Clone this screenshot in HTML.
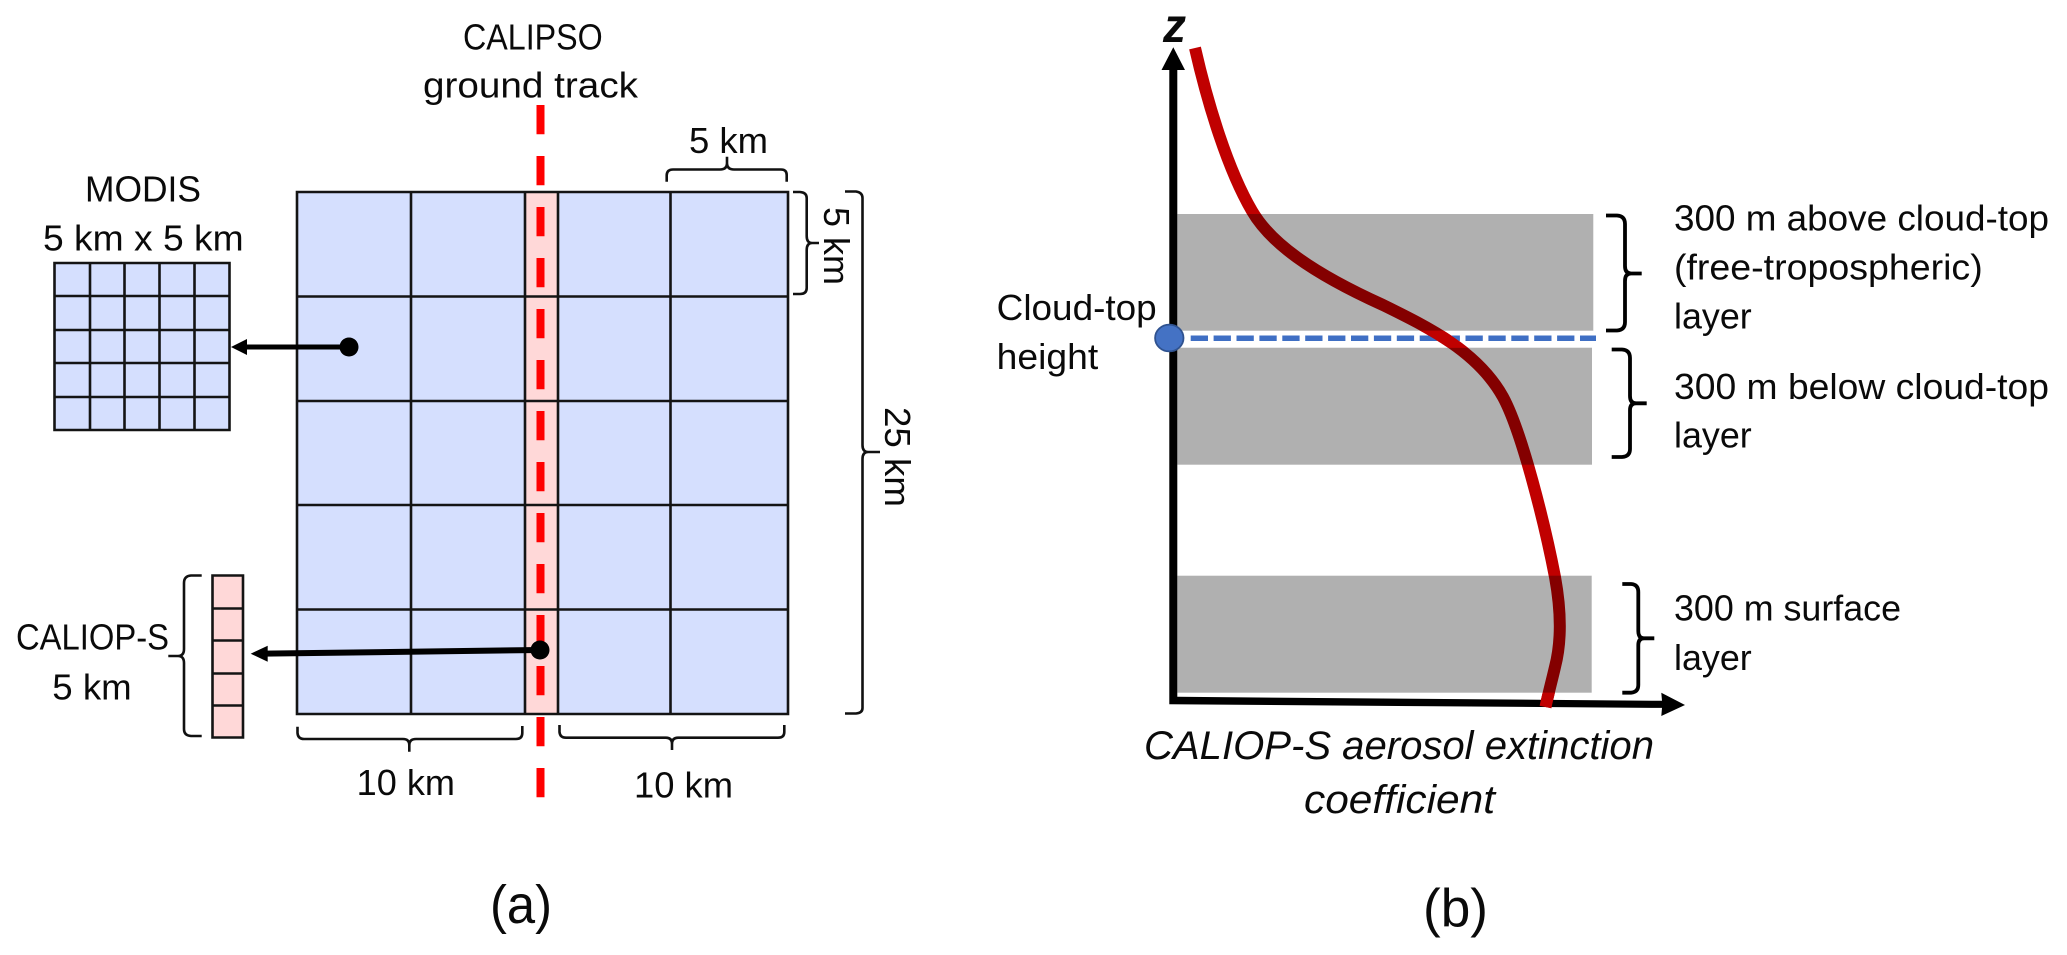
<!DOCTYPE html>
<html><head><meta charset="utf-8"><style>
html,body{margin:0;padding:0;background:#fff;width:2067px;height:955px;overflow:hidden}
svg{display:block}
text{font-family:"Liberation Sans",sans-serif;font-size:36px;fill:#0a0a0a}
.g{fill:none;stroke:#141414;stroke-width:2.6}
.b{fill:none;stroke:#111;stroke-width:2.6;stroke-linejoin:round}
.bb{fill:none;stroke:#000;stroke-width:3.8;stroke-linejoin:round}
.red{fill:none;stroke:#c00000;stroke-width:12}
</style></head><body>
<svg width="2067" height="955" viewBox="0 0 2067 955" xmlns="http://www.w3.org/2000/svg">
<defs>
<clipPath id="gap"><rect x="1300" y="330.7" width="300" height="17"/></clipPath>
<clipPath id="low"><rect x="1500" y="692.7" width="100" height="30"/></clipPath>
</defs>
<rect width="2067" height="955" fill="#fff"/>

<!-- main grid -->
<rect x="297" y="192" width="491" height="522" fill="#d5dffe"/>
<rect x="525" y="192" width="33" height="522" fill="#ffd8d8"/>
<path class="g" d="M297 192H788V714H297ZM411 192V714M525 192V714M558 192V714M670.5 192V714M297 296.5H788M297 401H788M297 505H788M297 609.5H788"/>
<!-- red dashed track -->
<line x1="540.5" y1="105" x2="540.5" y2="798" stroke="#ff0000" stroke-width="8" stroke-dasharray="29.3 21.7"/>

<!-- MODIS grid -->
<rect x="54.5" y="263" width="175" height="167" fill="#d5dffe"/>
<path class="g" d="M54.5 263H229.5V430H54.5ZM90 263V430M124.5 263V430M159.5 263V430M194.5 263V430M54.5 296H229.5M54.5 330H229.5M54.5 363H229.5M54.5 397H229.5"/>

<!-- CALIOP column -->
<rect x="212.5" y="575.5" width="30.5" height="162" fill="#ffd8d8"/>
<path class="g" d="M212.5 575.5H243V737.5H212.5ZM212.5 608.5H243M212.5 640.5H243M212.5 673.5H243M212.5 705.5H243"/>

<!-- arrows a -->
<line x1="349" y1="347" x2="245" y2="347" stroke="#000" stroke-width="5"/>
<polygon points="231,347 247,339 247,355" fill="#000"/>
<ellipse cx="349" cy="347" rx="9.5" ry="9.5" fill="#000"/>
<line x1="540" y1="650" x2="265" y2="653.6" stroke="#000" stroke-width="6"/>
<polygon points="250.7,653.7 267.7,645.7 267.7,661.7" fill="#000"/>
<circle cx="540" cy="650" r="9.5" fill="#000"/>

<!-- braces a -->
<path class="b" d="M666.7 181.7V175Q667 169.5 673 169.5H720Q727 169.5 727 163V156.7M727 163Q727 169.5 734 169.5H781Q786.7 169.5 786.7 175V181.7"/>
<path class="b" d="M793 192H800Q806.7 192.5 806.7 198V236Q806.7 243 812 243H819M812 243Q806.7 243 806.7 250V288Q806.7 294 800 294H793"/>
<path class="b" d="M845 191.5H856Q862.5 192.5 862.5 198V445Q862.5 452 868 452H880M868 452Q862.5 452 862.5 459V708Q862.5 713 856 713.5H845"/>
<path class="b" d="M201.7 575.5H191Q184 576 184 583V649Q184 656 178 656H168.3M178 656Q184 656 184 663V729Q184 735.5 191 736H201.7"/>
<path class="b" d="M297.5 726.7V733Q298 739 304 739H403Q409.3 739 409.3 745V751.7M409.3 745Q409.3 739 416 739H516Q522.3 739 522.3 733V726"/>
<path class="b" d="M559.5 725V732Q560 737.7 566 737.7H666Q672 737.7 672 744V750M672 744Q672 737.7 678 737.7H778Q784.3 737.7 784.3 732V725"/>

<!-- labels a -->
<text x="463" y="49.5" textLength="139.7" lengthAdjust="spacingAndGlyphs">CALIPSO</text>
<text x="423" y="97.5" textLength="215" lengthAdjust="spacingAndGlyphs">ground track</text>
<text x="85" y="201.7" textLength="116" lengthAdjust="spacingAndGlyphs">MODIS</text>
<text x="43" y="250.7" textLength="200.7" lengthAdjust="spacingAndGlyphs">5 km x 5 km</text>
<text x="689" y="153" textLength="79" lengthAdjust="spacingAndGlyphs">5 km</text>
<text transform="translate(824 207) rotate(90)" textLength="78" lengthAdjust="spacingAndGlyphs">5 km</text>
<text transform="translate(885 407) rotate(90)" textLength="100" lengthAdjust="spacingAndGlyphs">25 km</text>
<text x="16" y="649.3" textLength="153" lengthAdjust="spacingAndGlyphs">CALIOP-S</text>
<text x="52.3" y="699.3" textLength="79.4" lengthAdjust="spacingAndGlyphs">5 km</text>
<text x="356.7" y="795" textLength="98.3" lengthAdjust="spacingAndGlyphs">10 km</text>
<text x="634" y="797.7" textLength="99" lengthAdjust="spacingAndGlyphs">10 km</text>
<text x="490" y="923" style="font-size:54px" textLength="62" lengthAdjust="spacingAndGlyphs">(a)</text>

<!-- panel b: red curve -->
<path id="curve" class="red" d="M1195 48C1208 105 1228 170 1252 211C1270 242 1310 272 1383 305C1430 328 1478 352 1503 397C1522 432 1545 525 1555 577C1561 610 1562 640 1555 667C1552 680 1548 695 1545.5 707"/>

<!-- gray bands -->
<rect x="1177.3" y="214" width="416" height="116.7" fill="#000" fill-opacity=".31"/>
<rect x="1177.3" y="347.7" width="414.7" height="117" fill="#000" fill-opacity=".31"/>
<rect x="1177.3" y="575.7" width="414.4" height="117" fill="#000" fill-opacity=".31"/>

<!-- axes -->
<polygon points="1169.3,70 1161.5,70 1173.3,47.3 1185,70 1177.3,70 1177.3,696.8 1662,700.8 1661.3,692.7 1685,705 1661.3,716 1662,707.9 1169.3,704.3" fill="#000"/>

<!-- blue dashed -->
<line x1="1190.7" y1="338.3" x2="1596" y2="338.3" stroke="#3f6fc4" stroke-width="5.5" stroke-dasharray="17.3 5.6"/>
<ellipse cx="1169.3" cy="338" rx="14.2" ry="13.4" fill="#4472c4" stroke="#2f528f" stroke-width="1.8"/>

<!-- red over gap and over axis -->
<g clip-path="url(#gap)"><path class="red" d="M1252 211C1270 242 1310 272 1383 305C1430 328 1478 352 1503 397"/></g>
<g clip-path="url(#low)"><path class="red" d="M1555 667C1552 680 1548 695 1545.5 707"/></g>

<!-- braces b -->
<path class="bb" d="M1606 215.5H1617Q1625 216 1625 224V266Q1625 273.5 1631 273.5H1641.7M1631 273.5Q1625 273.5 1625 281V322Q1625 330 1617 330.5H1606"/>
<path class="bb" d="M1611.7 349.5H1622Q1630 350 1630 358V396Q1630 403.3 1636 403.3H1646.7M1636 403.3Q1630 403.3 1630 410V449Q1630 456.5 1622 457H1611.7"/>
<path class="bb" d="M1622.3 584H1631Q1638.3 584.5 1638.3 592V631Q1638.3 638.3 1644 638.3H1654.3M1644 638.3Q1638.3 638.3 1638.3 645V685Q1638.3 692 1631 692.7H1622.3"/>

<!-- labels b -->
<text x="1163" y="42" style="font-size:48px;font-weight:bold;font-style:italic" textLength="23" lengthAdjust="spacingAndGlyphs">z</text>
<text x="996.7" y="320" textLength="160" lengthAdjust="spacingAndGlyphs">Cloud-top</text>
<text x="996.7" y="369" textLength="101.5" lengthAdjust="spacingAndGlyphs">height</text>
<text x="1674" y="230.7" textLength="375" lengthAdjust="spacingAndGlyphs">300 m above cloud-top</text>
<text x="1674" y="279.3" textLength="308.7" lengthAdjust="spacingAndGlyphs">(free-tropospheric)</text>
<text x="1674" y="328.3" textLength="77.7" lengthAdjust="spacingAndGlyphs">layer</text>
<text x="1674" y="399" textLength="375" lengthAdjust="spacingAndGlyphs">300 m below cloud-top</text>
<text x="1674" y="447.3" textLength="77.7" lengthAdjust="spacingAndGlyphs">layer</text>
<text x="1674" y="620.7" textLength="227" lengthAdjust="spacingAndGlyphs">300 m surface</text>
<text x="1674" y="670" textLength="77.7" lengthAdjust="spacingAndGlyphs">layer</text>
<text x="1144" y="759" style="font-style:italic;font-size:40px" textLength="510" lengthAdjust="spacingAndGlyphs">CALIOP-S aerosol extinction</text>
<text x="1304" y="813" style="font-style:italic;font-size:40px" textLength="191" lengthAdjust="spacingAndGlyphs">coefficient</text>
<text x="1423" y="926.7" style="font-size:54px" textLength="65" lengthAdjust="spacingAndGlyphs">(b)</text>
</svg>
</body></html>
